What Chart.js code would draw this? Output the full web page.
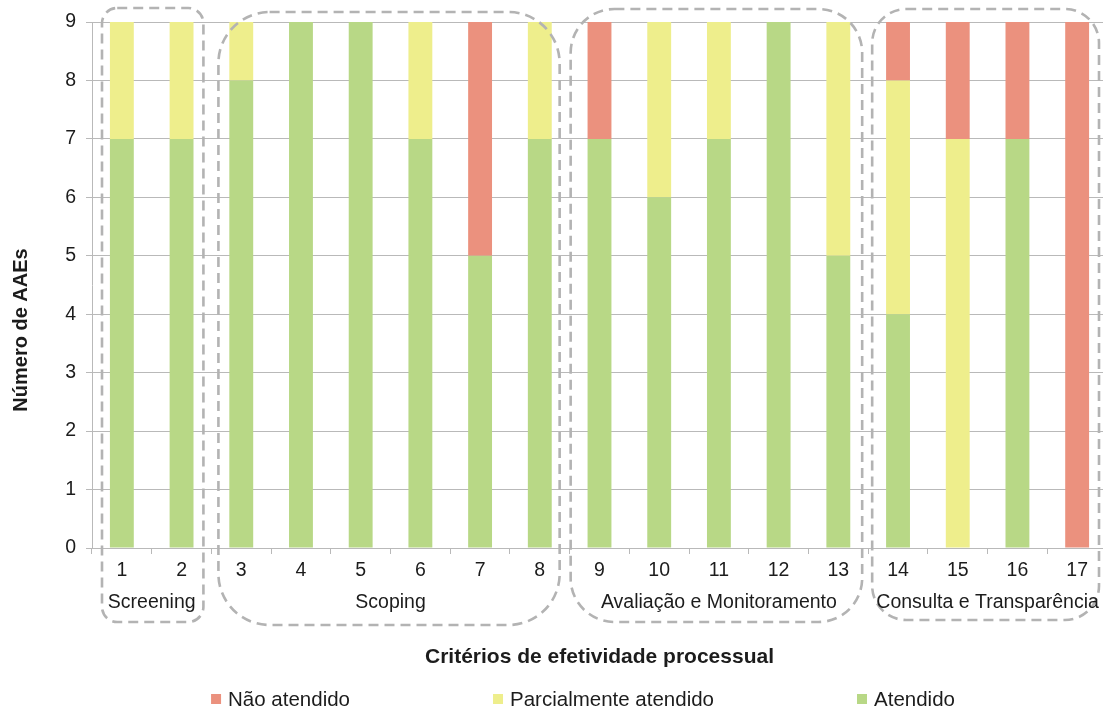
<!DOCTYPE html>
<html>
<head>
<meta charset="utf-8">
<script src="https://cdn.jsdelivr.net/npm/chart.js@4/dist/chart.umd.min.js"></script>
<style>
  html, body { margin: 0; padding: 0; background: #fff; overflow: hidden; }
  #wrap { position: relative; width: 1110px; height: 711px; }
</style>
</head>
<body>
<div id="wrap"><canvas id="c"></canvas></div>
<script>
// Process-effectiveness criteria (1..17) and the number of SEAs in each outcome
const categories = ['1','2','3','4','5','6','7','8','9','10','11','12','13','14','15','16','17'];
const atendido     = [7, 7, 8, 9, 9, 7, 5, 7, 7, 6, 7, 9, 5, 4, 0, 7, 0];
const parcial      = [2, 2, 1, 0, 0, 2, 0, 2, 0, 3, 2, 0, 4, 4, 7, 0, 0];
const naoAtendido  = [0, 0, 0, 0, 0, 0, 4, 0, 2, 0, 0, 0, 0, 1, 2, 2, 9];
const yTicks = [0, 1, 2, 3, 4, 5, 6, 7, 8, 9];

// Criterion groups (first and last category index of each)
const groupLabels = ['Screening', 'Scoping', 'Avaliação e Monitoramento', 'Consulta e Transparência'];
const groupStart  = [0, 2, 8, 13];
const groupEnd    = [1, 7, 12, 16];

const seriesLabels = ['Não atendido', 'Parcialmente atendido', 'Atendido'];
const RED = '#EB917E', YELLOW = '#EEEE8C', GREEN = '#B8D886';
const FONT = '"Liberation Sans", Arial, sans-serif';
const TEXT = '#1c1c1c';
const GRID = '#b9b9b9';

// Dashed rounded frames around each group plus the group captions
const groupFrames = {
  id: 'groupFrames',
  afterDraw(chart) {
    const x = chart.scales.x;
    const ctx = chart.ctx;
    const step = x.getPixelForValue(1) - x.getPixelForValue(0);
    const inset = [[10, -8], [7, -10], [1, -6], [4, -8]];
    const tops = [8, 12, 9, 9];
    const bottoms = [622, 625, 622, 620];
    ctx.save();
    groupLabels.forEach((label, i) => {
      const b0 = x.getPixelForValue(groupStart[i]) - step / 2;
      const b1 = x.getPixelForValue(groupEnd[i]) + step / 2;
      const l = b0 + inset[i][0], r = b1 + inset[i][1];
      const t = tops[i], btm = bottoms[i];
      const rad = 0.15 * (r - l);
      ctx.beginPath();
      ctx.setLineDash([10, 6]);
      ctx.lineWidth = 2.6;
      ctx.strokeStyle = '#b3b3b3';
      ctx.roundRect(l, t, r - l, btm - t, rad);
      ctx.stroke();
      ctx.setLineDash([]);
      ctx.fillStyle = TEXT;
      ctx.font = '19.5px ' + FONT;
      ctx.textAlign = 'center';
      ctx.textBaseline = 'middle';
      ctx.fillText(label, (b0 + b1) / 2, 603);
    });
    ctx.restore();
  }
};

// Y-axis caption and the legend row
const extras = {
  id: 'extras',
  afterDraw(chart) {
    const ctx = chart.ctx;
    ctx.save();
    ctx.fillStyle = TEXT;
    ctx.font = 'bold 20px ' + FONT;
    ctx.textAlign = 'center';
    ctx.textBaseline = 'middle';
    ctx.translate(21, 330);
    ctx.rotate(-Math.PI / 2);
    ctx.fillText('Número de AAEs', 0, 0);
    ctx.restore();

    // legend: same order as the labels, colours from the datasets
    ctx.save();
    ctx.font = '20.5px ' + FONT;
    ctx.textBaseline = 'middle';
    const colors = [RED, YELLOW, GREEN];
    const box = 10, gap = 7, spacing = 143, yMid = 699;
    const widths = seriesLabels.map(s => box + gap + ctx.measureText(s).width);
    const total = widths.reduce((a, b) => a + b, 0) + spacing * (widths.length - 1);
    let cx = 583 - total / 2;
    seriesLabels.forEach((s, i) => {
      ctx.fillStyle = colors[i];
      ctx.fillRect(cx, yMid - box / 2, box, box);
      ctx.fillStyle = TEXT;
      ctx.textAlign = 'left';
      ctx.fillText(s, cx + box + gap, yMid + 1);
      cx += widths[i] + spacing;
    });
    ctx.restore();
  }
};

new Chart(document.getElementById('c'), {
  type: 'bar',
  data: {
    labels: categories,
    datasets: [
      { label: seriesLabels[2], data: atendido, backgroundColor: GREEN },
      { label: seriesLabels[1], data: parcial, backgroundColor: YELLOW },
      { label: seriesLabels[0], data: naoAtendido, backgroundColor: RED }
    ]
  },
  options: {
    responsive: true,
    maintainAspectRatio: false,
    devicePixelRatio: 1,
    animation: false,
    layout: { padding: { top: 22, right: 3, left: 0, bottom: 0 } },
    datasets: { bar: { barPercentage: 0.4, categoryPercentage: 1.0 } },
    plugins: { legend: { display: false }, tooltip: { enabled: false } },
    scales: {
      x: {
        stacked: true,
        offset: true,
        grid: { display: true, drawOnChartArea: false, drawTicks: true, tickLength: 6, color: GRID, offset: true },
        border: { display: true, color: GRID },
        ticks: { color: TEXT, font: { family: FONT, size: 19.5 }, padding: 5, maxRotation: 0, autoSkip: false },
        title: {
          display: true,
          text: 'Critérios de efetividade processual',
          color: TEXT,
          font: { family: FONT, size: 21, weight: 'bold' },
          padding: { top: 0, bottom: 41 }
        },
        afterFit(s) { s.height = 163; }
      },
      y: {
        stacked: true,
        min: 0,
        max: 9,
        afterBuildTicks(s) { s.ticks = yTicks.map(v => ({ value: v })); },
        grid: { color: GRID, tickLength: 6 },
        border: { display: true, color: GRID },
        ticks: { color: TEXT, font: { family: FONT, size: 19.5 }, padding: 10 },
        afterFit(s) { s.width = 92; }
      }
    }
  },
  plugins: [groupFrames, extras]
});
</script>
</body>
</html>
